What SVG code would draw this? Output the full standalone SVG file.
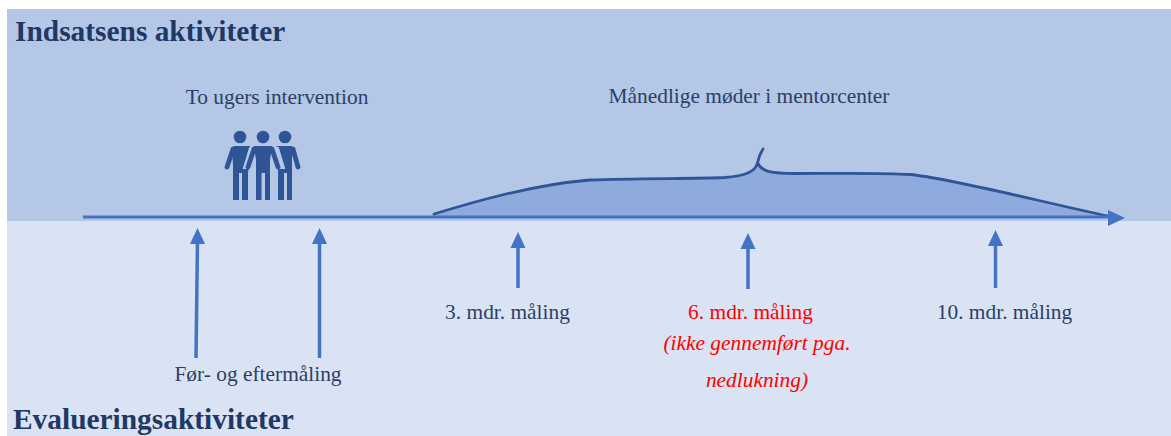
<svg xmlns="http://www.w3.org/2000/svg" width="1171" height="436" viewBox="0 0 1171 436">
<style>
text{font-family:"Liberation Serif","Times New Roman",serif;fill:#2b3f66;font-size:21.4px}
.h{font-weight:bold;font-size:29.4px;fill:#1f3864}
.r{fill:#ff0000}
.i{font-style:italic}
.m{text-anchor:middle}
.a{stroke:#4472c4;stroke-width:3.500;fill:none}
.f{fill:#4472c4}
.p{fill:#2f5597}
.arm{fill:none;stroke:#2f5597;stroke-width:4.800;stroke-linecap:round;stroke-linejoin:round}
.b{stroke:#2f5597;stroke-width:2.800;fill:none;stroke-linecap:round}
</style>
<g id="bands">
<rect x="7" y="9" width="1164" height="212" fill="#b4c7e7"/>
<rect x="7" y="221" width="1164" height="215" fill="#dae3f3"/>
</g>
<g id="titles">
<text class="h" x="15" y="41">Indsatsens aktiviteter</text>
<text class="h" x="13" y="429">Evalueringsaktiviteter</text>
</g>
<g id="brace">
<path d="M434 214C470 203 530 185 590 180C640 178 690 179 725 177.500C745 176 755 172 757.500 163C762 172 772 173.500 795 173.500C830 173.500 880 172.500 910 174.500C950 178 1050 204 1108 216L434 216Z" fill="#8faadc"/>
<path class="b" d="M434 214C470 203 530 185 590 180C640 178 690 179 725 177.500C745 176 755 172 757.500 163Q759 155 763 149"/>
<path class="b" d="M757.500 163C762 172 772 173.500 795 173.500C830 173.500 880 172.500 910 174.500C950 178 1050 204 1108 216"/>
</g>
<g id="connectors">
<path class="a" d="M83 217H1110" style="stroke-width:2.800"/>
<path class="f" d="M1108 210L1125 218L1108 226Z"/>
<path class="a" d="M196 358L197.500 240"/>
<path class="f" d="M197.500 228L205 244H190Z"/>
<path class="a" d="M319.500 358V240"/>
<path class="f" d="M319.500 228L327 244H312Z"/>
<path class="a" d="M518 288V244"/>
<path class="f" d="M518 232L525.500 248H510.500Z"/>
<path class="a" d="M748 289V245"/>
<path class="f" d="M748 233L755.500 249H740.500Z"/>
<path class="a" d="M995.500 288V244"/>
<path class="f" d="M995.500 230L1003 246H988Z"/>
</g>
<g id="people">
<g id="p1" class="p">
<circle cx="240" cy="137" r="6.300"/>
<path d="M234 146H250V158L248 173V200H242V173H239V200H233V165L232 150Z"/>
<path class="arm" d="M233 149L227 167"/>
</g>
<g id="p3" class="p">
<circle cx="285" cy="137" r="6.300"/>
<path d="M276 146H292V200H287V173H284V200H278V165L276 155Z"/>
<path class="arm" d="M293 149L298 167"/>
</g>
<g id="p2" class="p">
<path d="M255 145.500H271L278 148L284 168H276L274 158L271 200H265V173H261V200H256V158L252 168H244L250 148Z" fill="#b4c7e7" stroke="#b4c7e7" stroke-width="2"/>
<circle cx="263" cy="137" r="6.300"/>
<path d="M254 146H272L270 160V200H265V173H261.500V200H256V160Z"/>
<path class="arm" d="M254 149L248 167"/>
<path class="arm" d="M272 149L278 167"/>
</g>
</g>
<g id="labels">
<text class="m" x="277" y="104">To ugers intervention</text>
<text class="m" x="749" y="103">Månedlige møder i mentorcenter</text>
<text class="m" x="258" y="381">Før- og eftermåling</text>
<text class="m" x="507.500" y="319">3. mdr. måling</text>
<text class="m r" x="750.500" y="319">6. mdr. måling</text>
<text class="m r i" x="757" y="350">(ikke gennemført pga.</text>
<text class="m r i" x="757" y="387">nedlukning)</text>
<text class="m" x="1004.500" y="319">10. mdr. måling</text>
</g>
</svg>
